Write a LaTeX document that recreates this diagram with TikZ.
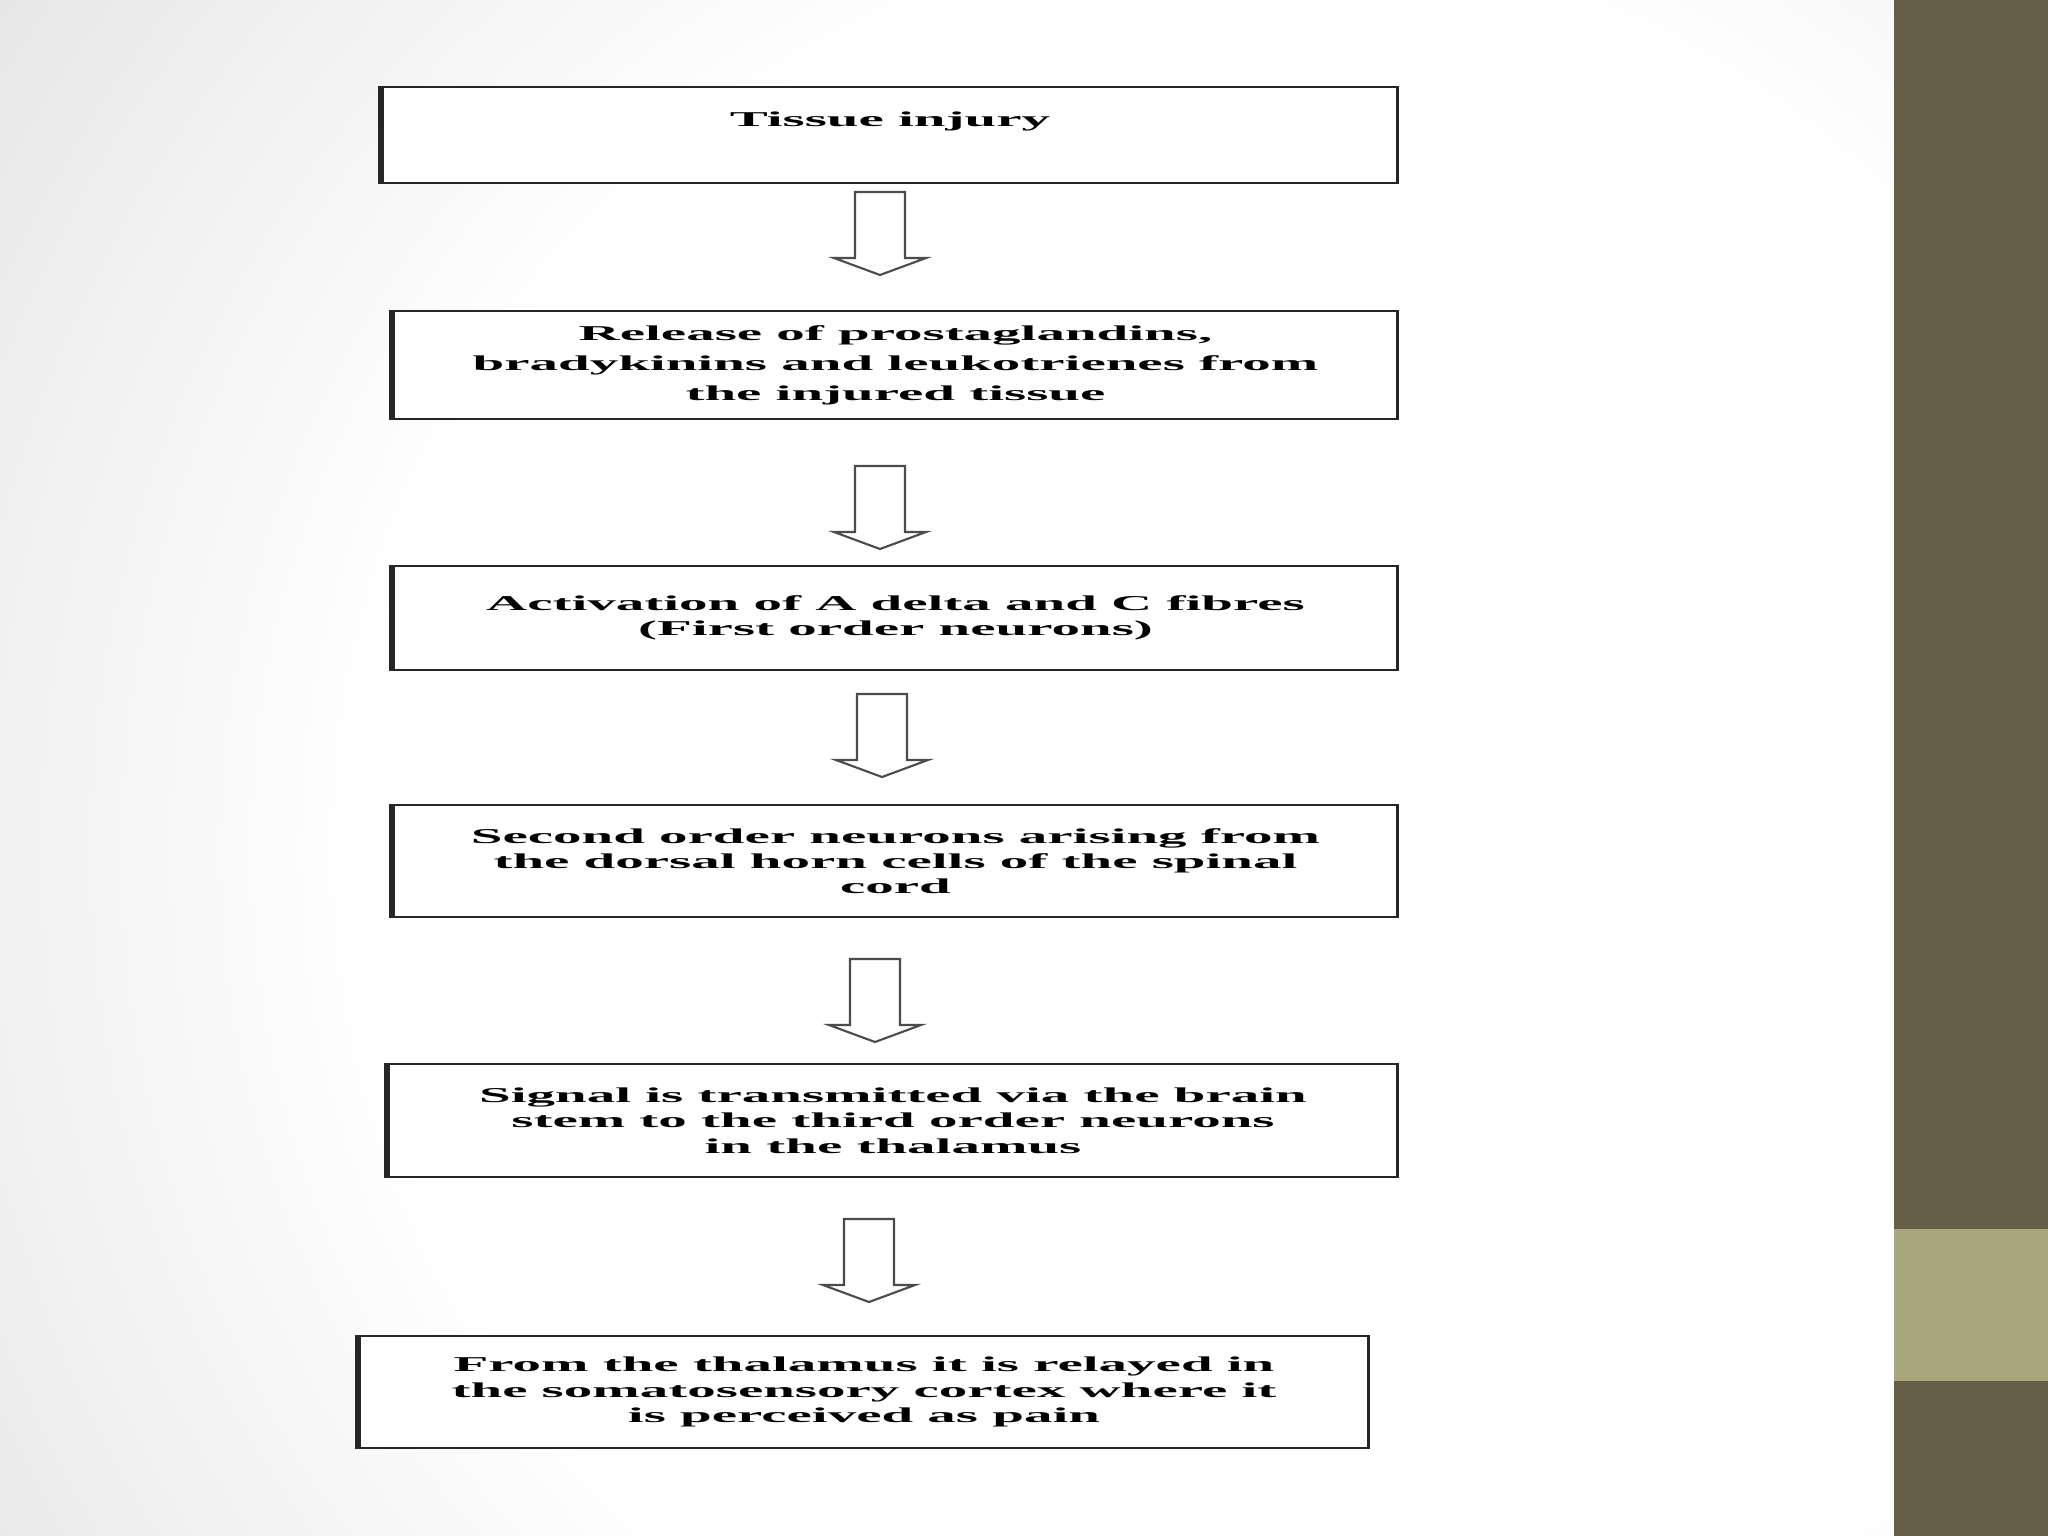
\documentclass[tikz,border=0pt]{standalone}
\usepackage{fontspec}
\newfontfamily\flowfont[FakeStretch=2.7]{Liberation Serif}
\definecolor{barbrown}{HTML}{675E47}
\definecolor{barolive}{HTML}{A8A67C}
\pgfdeclareradialshading{slideglow}{\pgfpoint{0bp}{0bp}}{color(0bp)=(white); color(17bp)=(white); color(40bp)=(black!18); color(50bp)=(black!22)}
\tikzset{
  stepbox/.style={draw=black!85, line width=0.7pt, fill=white, inner sep=0pt, align=center,
    font=\flowfont\bfseries\fontsize{6}{7.2}\selectfont},
  downarrow/.pic={
    \draw[black!70, line width=0.6pt, fill=white]
      (-25,0) -- (25,0) -- (25,66) -- (46,66) -- (0,83) -- (-46,66) -- (-25,66) -- cycle;
  }
}
\begin{document}
\begin{tikzpicture}[x=0.01cm, y=-0.01cm]
  \useasboundingbox (0,0) rectangle (2048,1536);
  % slide background
  \begin{scope}
    \clip (0,0) rectangle (1894,1536);
    \shade[shading=slideglow] (-50,-450) rectangle (2550,2150);
  \end{scope}
  \fill[barbrown] (1894,0) rectangle (2048,1536);
  \fill[barolive] (1894,1229) rectangle (2048,1381);

  % flow boxes
  \node[stepbox, minimum width=10.14cm, minimum height=0.96cm, text depth=9pt] (b1) at (890,135)
    {Tissue injury};
  \node[stepbox, minimum width=10.03cm, minimum height=1.08cm,
    font=\flowfont\bfseries\fontsize{6}{8.5}\selectfont] (b2) at (895.5,365)
    {Release of prostaglandins,\\bradykinins and leukotrienes from\\the injured tissue};
  \node[stepbox, minimum width=10.03cm, minimum height=1.04cm] (b3) at (895.5,618)
    {Activation of A delta and C fibres\\(First order neurons)};
  \node[stepbox, minimum width=10.03cm, minimum height=1.12cm] (b4) at (895.5,861)
    {Second order neurons arising from\\the dorsal horn cells of the spinal\\cord};
  \node[stepbox, minimum width=10.08cm, minimum height=1.13cm] (b5) at (893,1120.5)
    {Signal is transmitted via the brain\\stem to the third order neurons\\in the thalamus};
  \node[stepbox, minimum width=10.08cm, minimum height=1.12cm] (b6) at (864,1392)
    {From the thalamus it is relayed in\\the somatosensory cortex where it\\is perceived as pain};
  \foreach \b in {b1,b2,b3,b4,b5,b6}
    \draw[black!85, line width=1.7pt] (\b.north west) -- (\b.south west);

  % hollow arrows
  \pic (a1) at (880,192) {downarrow};
  \pic (a2) at (880,466) {downarrow};
  \pic (a3) at (882,694) {downarrow};
  \pic (a4) at (875,959) {downarrow};
  \pic (a5) at (869,1219) {downarrow};
\end{tikzpicture}
\end{document}
